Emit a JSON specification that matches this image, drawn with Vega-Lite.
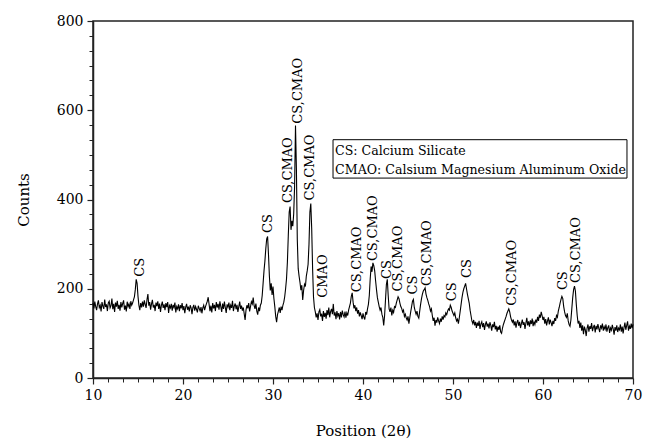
{
"$schema": "https://vega.github.io/schema/vega-lite/v6.json",
"width": 540, "height": 357,
"autosize": "none",
"padding": {"left": 93, "top": 21, "right": 13, "bottom": 68},
"background": "white",
"config": {"font": "DejaVu Serif", "view": {"stroke": "#222", "strokeWidth": 1.5}},
"datasets": {
"xrd": [
{"x":10.0,"y":168},{"x":10.1,"y":156},{"x":10.2,"y":171},{"x":10.3,"y":160},{"x":10.4,"y":152},{"x":10.5,"y":166},{"x":10.6,"y":174},{"x":10.7,"y":158},{"x":10.8,"y":163},{"x":10.9,"y":149},
{"x":11.0,"y":170},{"x":11.1,"y":161},{"x":11.2,"y":155},{"x":11.3,"y":176},{"x":11.4,"y":159},{"x":11.5,"y":165},{"x":11.6,"y":150},{"x":11.7,"y":168},{"x":11.8,"y":172},{"x":11.9,"y":157},
{"x":12.0,"y":162},{"x":12.1,"y":178},{"x":12.2,"y":154},{"x":12.3,"y":166},{"x":12.4,"y":148},{"x":12.5,"y":169},{"x":12.6,"y":160},{"x":12.7,"y":173},{"x":12.8,"y":155},{"x":12.9,"y":164},
{"x":13.0,"y":151},{"x":13.1,"y":170},{"x":13.2,"y":158},{"x":13.3,"y":167},{"x":13.4,"y":174},{"x":13.5,"y":153},{"x":13.6,"y":162},{"x":13.7,"y":149},{"x":13.8,"y":171},{"x":13.9,"y":160},
{"x":14.0,"y":166},{"x":14.1,"y":155},{"x":14.2,"y":172},{"x":14.3,"y":163},{"x":14.4,"y":168},{"x":14.5,"y":175},{"x":14.6,"y":182},{"x":14.7,"y":198},{"x":14.8,"y":221},{"x":14.9,"y":212},
{"x":15.0,"y":183},{"x":15.1,"y":163},{"x":15.2,"y":152},{"x":15.3,"y":168},{"x":15.4,"y":158},{"x":15.5,"y":171},{"x":15.6,"y":160},{"x":15.7,"y":174},{"x":15.8,"y":165},{"x":15.9,"y":157},
{"x":16.0,"y":176},{"x":16.1,"y":188},{"x":16.2,"y":162},{"x":16.3,"y":170},{"x":16.4,"y":153},{"x":16.5,"y":166},{"x":16.6,"y":175},{"x":16.7,"y":158},{"x":16.8,"y":164},{"x":16.9,"y":150},
{"x":17.0,"y":169},{"x":17.1,"y":161},{"x":17.2,"y":172},{"x":17.3,"y":155},{"x":17.4,"y":167},{"x":17.5,"y":148},{"x":17.6,"y":163},{"x":17.7,"y":171},{"x":17.8,"y":157},{"x":17.9,"y":165},
{"x":18.0,"y":152},{"x":18.1,"y":168},{"x":18.2,"y":159},{"x":18.3,"y":170},{"x":18.4,"y":146},{"x":18.5,"y":162},{"x":18.6,"y":157},{"x":18.7,"y":166},{"x":18.8,"y":151},{"x":18.9,"y":164},
{"x":19.0,"y":158},{"x":19.1,"y":169},{"x":19.2,"y":147},{"x":19.3,"y":160},{"x":19.4,"y":155},{"x":19.5,"y":165},{"x":19.6,"y":150},{"x":19.7,"y":163},{"x":19.8,"y":156},{"x":19.9,"y":168},
{"x":20.0,"y":152},{"x":20.1,"y":161},{"x":20.2,"y":145},{"x":20.3,"y":159},{"x":20.4,"y":166},{"x":20.5,"y":153},{"x":20.6,"y":160},{"x":20.7,"y":149},{"x":20.8,"y":163},{"x":20.9,"y":157},
{"x":21.0,"y":143},{"x":21.1,"y":158},{"x":21.2,"y":164},{"x":21.3,"y":151},{"x":21.4,"y":160},{"x":21.5,"y":154},{"x":21.6,"y":147},{"x":21.7,"y":162},{"x":21.8,"y":156},{"x":21.9,"y":150},
{"x":22.0,"y":159},{"x":22.1,"y":145},{"x":22.2,"y":157},{"x":22.3,"y":163},{"x":22.4,"y":152},{"x":22.5,"y":160},{"x":22.6,"y":166},{"x":22.7,"y":172},{"x":22.8,"y":181},{"x":22.9,"y":165},
{"x":23.0,"y":150},{"x":23.1,"y":162},{"x":23.2,"y":147},{"x":23.3,"y":168},{"x":23.4,"y":156},{"x":23.5,"y":164},{"x":23.6,"y":150},{"x":23.7,"y":170},{"x":23.8,"y":158},{"x":23.9,"y":166},
{"x":24.0,"y":153},{"x":24.1,"y":172},{"x":24.2,"y":160},{"x":24.3,"y":148},{"x":24.4,"y":167},{"x":24.5,"y":155},{"x":24.6,"y":171},{"x":24.7,"y":158},{"x":24.8,"y":146},{"x":24.9,"y":165},
{"x":25.0,"y":159},{"x":25.1,"y":169},{"x":25.2,"y":152},{"x":25.3,"y":163},{"x":25.4,"y":157},{"x":25.5,"y":173},{"x":25.6,"y":150},{"x":25.7,"y":161},{"x":25.8,"y":167},{"x":25.9,"y":154},
{"x":26.0,"y":164},{"x":26.1,"y":148},{"x":26.2,"y":160},{"x":26.3,"y":171},{"x":26.4,"y":155},{"x":26.5,"y":162},{"x":26.6,"y":151},{"x":26.7,"y":158},{"x":26.8,"y":144},{"x":26.9,"y":130},
{"x":27.0,"y":152},{"x":27.1,"y":163},{"x":27.2,"y":156},{"x":27.3,"y":168},{"x":27.4,"y":149},{"x":27.5,"y":160},{"x":27.6,"y":171},{"x":27.7,"y":166},{"x":27.8,"y":180},{"x":27.9,"y":162},
{"x":28.0,"y":155},{"x":28.1,"y":167},{"x":28.2,"y":150},{"x":28.3,"y":142},{"x":28.4,"y":158},{"x":28.5,"y":150},{"x":28.6,"y":163},{"x":28.7,"y":168},{"x":28.8,"y":185},{"x":28.9,"y":212},
{"x":29.0,"y":240},{"x":29.1,"y":262},{"x":29.2,"y":290},{"x":29.3,"y":312},{"x":29.4,"y":317},{"x":29.5,"y":276},{"x":29.6,"y":228},{"x":29.7,"y":196},{"x":29.8,"y":212},{"x":29.9,"y":186},
{"x":30.0,"y":205},{"x":30.1,"y":178},{"x":30.2,"y":160},{"x":30.3,"y":138},{"x":30.4,"y":125},{"x":30.5,"y":142},{"x":30.6,"y":150},{"x":30.7,"y":158},{"x":30.8,"y":146},{"x":30.9,"y":160},
{"x":31.0,"y":152},{"x":31.1,"y":163},{"x":31.2,"y":170},{"x":31.3,"y":182},{"x":31.4,"y":200},{"x":31.5,"y":222},{"x":31.6,"y":260},{"x":31.7,"y":320},{"x":31.8,"y":372},{"x":31.9,"y":384},
{"x":32.0,"y":332},{"x":32.1,"y":352},{"x":32.2,"y":340},{"x":32.3,"y":368},{"x":32.4,"y":430},{"x":32.5,"y":566},{"x":32.6,"y":470},{"x":32.7,"y":310},{"x":32.8,"y":245},{"x":32.9,"y":228},
{"x":33.0,"y":214},{"x":33.1,"y":197},{"x":33.2,"y":208},{"x":33.3,"y":175},{"x":33.4,"y":196},{"x":33.5,"y":210},{"x":33.6,"y":205},{"x":33.7,"y":228},{"x":33.8,"y":240},{"x":33.9,"y":255},
{"x":34.0,"y":300},{"x":34.1,"y":372},{"x":34.2,"y":391},{"x":34.3,"y":335},{"x":34.4,"y":245},{"x":34.5,"y":182},{"x":34.6,"y":158},{"x":34.7,"y":148},{"x":34.8,"y":136},{"x":34.9,"y":145},
{"x":35.0,"y":130},{"x":35.1,"y":148},{"x":35.2,"y":153},{"x":35.3,"y":138},{"x":35.4,"y":144},{"x":35.5,"y":128},{"x":35.6,"y":150},{"x":35.7,"y":137},{"x":35.8,"y":146},{"x":35.9,"y":133},
{"x":36.0,"y":152},{"x":36.1,"y":141},{"x":36.2,"y":158},{"x":36.3,"y":136},{"x":36.4,"y":149},{"x":36.5,"y":155},{"x":36.6,"y":143},{"x":36.7,"y":166},{"x":36.8,"y":140},{"x":36.9,"y":147},
{"x":37.0,"y":132},{"x":37.1,"y":150},{"x":37.2,"y":139},{"x":37.3,"y":145},{"x":37.4,"y":131},{"x":37.5,"y":148},{"x":37.6,"y":136},{"x":37.7,"y":151},{"x":37.8,"y":142},{"x":37.9,"y":137},
{"x":38.0,"y":149},{"x":38.1,"y":135},{"x":38.2,"y":146},{"x":38.3,"y":140},{"x":38.4,"y":152},{"x":38.5,"y":160},{"x":38.6,"y":168},{"x":38.7,"y":183},{"x":38.8,"y":191},{"x":38.9,"y":170},
{"x":39.0,"y":156},{"x":39.1,"y":163},{"x":39.2,"y":150},{"x":39.3,"y":158},{"x":39.4,"y":144},{"x":39.5,"y":152},{"x":39.6,"y":138},{"x":39.7,"y":147},{"x":39.8,"y":140},{"x":39.9,"y":132},
{"x":40.0,"y":145},{"x":40.1,"y":136},{"x":40.2,"y":131},{"x":40.3,"y":148},{"x":40.4,"y":142},{"x":40.5,"y":155},{"x":40.6,"y":165},{"x":40.7,"y":185},{"x":40.8,"y":222},{"x":40.9,"y":250},
{"x":41.0,"y":238},{"x":41.1,"y":258},{"x":41.2,"y":252},{"x":41.3,"y":240},{"x":41.4,"y":218},{"x":41.5,"y":198},{"x":41.6,"y":180},{"x":41.7,"y":170},{"x":41.8,"y":160},{"x":41.9,"y":152},
{"x":42.0,"y":158},{"x":42.1,"y":143},{"x":42.2,"y":136},{"x":42.3,"y":118},{"x":42.4,"y":140},{"x":42.5,"y":175},{"x":42.6,"y":210},{"x":42.7,"y":221},{"x":42.8,"y":185},{"x":42.9,"y":155},
{"x":43.0,"y":148},{"x":43.1,"y":158},{"x":43.2,"y":140},{"x":43.3,"y":152},{"x":43.4,"y":147},{"x":43.5,"y":160},{"x":43.6,"y":158},{"x":43.7,"y":168},{"x":43.8,"y":175},{"x":43.9,"y":182},
{"x":44.0,"y":178},{"x":44.1,"y":168},{"x":44.2,"y":160},{"x":44.3,"y":156},{"x":44.4,"y":148},{"x":44.5,"y":152},{"x":44.6,"y":138},{"x":44.7,"y":143},{"x":44.8,"y":135},{"x":44.9,"y":130},
{"x":45.0,"y":138},{"x":45.1,"y":122},{"x":45.2,"y":135},{"x":45.3,"y":148},{"x":45.4,"y":160},{"x":45.5,"y":172},{"x":45.6,"y":176},{"x":45.7,"y":158},{"x":45.8,"y":150},{"x":45.9,"y":143},
{"x":46.0,"y":150},{"x":46.1,"y":138},{"x":46.2,"y":134},{"x":46.3,"y":150},{"x":46.4,"y":165},{"x":46.5,"y":178},{"x":46.6,"y":188},{"x":46.7,"y":195},{"x":46.8,"y":198},{"x":46.9,"y":202},
{"x":47.0,"y":188},{"x":47.1,"y":180},{"x":47.2,"y":174},{"x":47.3,"y":166},{"x":47.4,"y":160},{"x":47.5,"y":150},{"x":47.6,"y":155},{"x":47.7,"y":140},{"x":47.8,"y":128},{"x":47.9,"y":135},
{"x":48.0,"y":117},{"x":48.1,"y":130},{"x":48.2,"y":124},{"x":48.3,"y":136},{"x":48.4,"y":128},{"x":48.5,"y":122},{"x":48.6,"y":133},{"x":48.7,"y":126},{"x":48.8,"y":138},{"x":48.9,"y":131},
{"x":49.0,"y":140},{"x":49.1,"y":137},{"x":49.2,"y":146},{"x":49.3,"y":142},{"x":49.4,"y":150},{"x":49.5,"y":155},{"x":49.6,"y":152},{"x":49.7,"y":163},{"x":49.8,"y":158},{"x":49.9,"y":150},
{"x":50.0,"y":145},{"x":50.1,"y":140},{"x":50.2,"y":146},{"x":50.3,"y":135},{"x":50.4,"y":128},{"x":50.5,"y":132},{"x":50.6,"y":122},{"x":50.7,"y":135},{"x":50.8,"y":150},{"x":50.9,"y":165},
{"x":51.0,"y":180},{"x":51.1,"y":192},{"x":51.2,"y":200},{"x":51.3,"y":206},{"x":51.4,"y":212},{"x":51.5,"y":200},{"x":51.6,"y":188},{"x":51.7,"y":178},{"x":51.8,"y":168},{"x":51.9,"y":152},
{"x":52.0,"y":140},{"x":52.1,"y":128},{"x":52.2,"y":122},{"x":52.3,"y":130},{"x":52.4,"y":118},{"x":52.5,"y":126},{"x":52.6,"y":112},{"x":52.7,"y":124},{"x":52.8,"y":117},{"x":52.9,"y":128},
{"x":53.0,"y":110},{"x":53.1,"y":121},{"x":53.2,"y":126},{"x":53.3,"y":114},{"x":53.4,"y":123},{"x":53.5,"y":108},{"x":53.6,"y":120},{"x":53.7,"y":127},{"x":53.8,"y":115},{"x":53.9,"y":122},
{"x":54.0,"y":111},{"x":54.1,"y":125},{"x":54.2,"y":118},{"x":54.3,"y":106},{"x":54.4,"y":120},{"x":54.5,"y":114},{"x":54.6,"y":126},{"x":54.7,"y":109},{"x":54.8,"y":117},{"x":54.9,"y":104},
{"x":55.0,"y":115},{"x":55.1,"y":108},{"x":55.2,"y":118},{"x":55.3,"y":103},{"x":55.4,"y":100},{"x":55.5,"y":112},{"x":55.6,"y":120},{"x":55.7,"y":126},{"x":55.8,"y":132},{"x":55.9,"y":138},
{"x":56.0,"y":145},{"x":56.1,"y":150},{"x":56.2,"y":155},{"x":56.3,"y":148},{"x":56.4,"y":137},{"x":56.5,"y":130},{"x":56.6,"y":125},{"x":56.7,"y":131},{"x":56.8,"y":118},{"x":56.9,"y":127},
{"x":57.0,"y":113},{"x":57.1,"y":124},{"x":57.2,"y":130},{"x":57.3,"y":117},{"x":57.4,"y":126},{"x":57.5,"y":112},{"x":57.6,"y":122},{"x":57.7,"y":131},{"x":57.8,"y":119},{"x":57.9,"y":125},
{"x":58.0,"y":110},{"x":58.1,"y":123},{"x":58.2,"y":135},{"x":58.3,"y":118},{"x":58.4,"y":127},{"x":58.5,"y":115},{"x":58.6,"y":129},{"x":58.7,"y":121},{"x":58.8,"y":133},{"x":58.9,"y":116},
{"x":59.0,"y":126},{"x":59.1,"y":120},{"x":59.2,"y":131},{"x":59.3,"y":124},{"x":59.4,"y":137},{"x":59.5,"y":128},{"x":59.6,"y":142},{"x":59.7,"y":135},{"x":59.8,"y":148},{"x":59.9,"y":140},
{"x":60.0,"y":130},{"x":60.1,"y":137},{"x":60.2,"y":122},{"x":60.3,"y":132},{"x":60.4,"y":118},{"x":60.5,"y":128},{"x":60.6,"y":136},{"x":60.7,"y":120},{"x":60.8,"y":131},{"x":60.9,"y":124},
{"x":61.0,"y":116},{"x":61.1,"y":128},{"x":61.2,"y":121},{"x":61.3,"y":134},{"x":61.4,"y":128},{"x":61.5,"y":140},{"x":61.6,"y":136},{"x":61.7,"y":150},{"x":61.8,"y":158},{"x":61.9,"y":168},
{"x":62.0,"y":176},{"x":62.1,"y":183},{"x":62.2,"y":178},{"x":62.3,"y":160},{"x":62.4,"y":148},{"x":62.5,"y":140},{"x":62.6,"y":136},{"x":62.7,"y":145},{"x":62.8,"y":128},{"x":62.9,"y":120},
{"x":63.0,"y":116},{"x":63.1,"y":130},{"x":63.2,"y":155},{"x":63.3,"y":180},{"x":63.4,"y":198},{"x":63.5,"y":206},{"x":63.6,"y":195},{"x":63.7,"y":165},{"x":63.8,"y":140},{"x":63.9,"y":122},
{"x":64.0,"y":128},{"x":64.1,"y":112},{"x":64.2,"y":124},{"x":64.3,"y":106},{"x":64.4,"y":118},{"x":64.5,"y":98},{"x":64.6,"y":115},{"x":64.7,"y":108},{"x":64.8,"y":94},{"x":64.9,"y":112},
{"x":65.0,"y":120},{"x":65.1,"y":104},{"x":65.2,"y":116},{"x":65.3,"y":110},{"x":65.4,"y":123},{"x":65.5,"y":105},{"x":65.6,"y":114},{"x":65.7,"y":119},{"x":65.8,"y":102},{"x":65.9,"y":117},
{"x":66.0,"y":109},{"x":66.1,"y":121},{"x":66.2,"y":111},{"x":66.3,"y":103},{"x":66.4,"y":118},{"x":66.5,"y":112},{"x":66.6,"y":122},{"x":66.7,"y":106},{"x":66.8,"y":115},{"x":66.9,"y":109},
{"x":67.0,"y":120},{"x":67.1,"y":104},{"x":67.2,"y":113},{"x":67.3,"y":118},{"x":67.4,"y":101},{"x":67.5,"y":112},{"x":67.6,"y":107},{"x":67.7,"y":119},{"x":67.8,"y":110},{"x":67.9,"y":97},
{"x":68.0,"y":114},{"x":68.1,"y":106},{"x":68.2,"y":118},{"x":68.3,"y":103},{"x":68.4,"y":112},{"x":68.5,"y":108},{"x":68.6,"y":120},{"x":68.7,"y":104},{"x":68.8,"y":115},{"x":68.9,"y":100},
{"x":69.0,"y":113},{"x":69.1,"y":124},{"x":69.2,"y":108},{"x":69.3,"y":118},{"x":69.4,"y":127},{"x":69.5,"y":106},{"x":69.6,"y":116},{"x":69.7,"y":110},{"x":69.8,"y":122},{"x":69.9,"y":112},
{"x":70.0,"y":120}
],
"labels": [
{"x":15.19,"y":227,"t":"CS"},
{"x":29.4,"y":325,"t":"CS"},
{"x":31.7,"y":392,"t":"CS,CMAO"},
{"x":32.8,"y":570,"t":"CS,CMAO"},
{"x":34.1,"y":398,"t":"CS,CMAO"},
{"x":35.55,"y":180,"t":"CMAO"},
{"x":39.33,"y":192,"t":"CS,CMAO"},
{"x":41.1,"y":262,"t":"CS,CMAO"},
{"x":42.7,"y":222,"t":"CS"},
{"x":43.93,"y":194,"t":"CS,CMAO"},
{"x":45.6,"y":187,"t":"CS"},
{"x":47.07,"y":206,"t":"CS,CMAO"},
{"x":49.85,"y":172,"t":"CS"},
{"x":51.5,"y":224,"t":"CS"},
{"x":56.55,"y":162,"t":"CS,CMAO"},
{"x":62.26,"y":197,"t":"CS"},
{"x":63.63,"y":213,"t":"CS,CMAO"}
],
"box": [{"x1":36.67,"x2":69.33,"y1":448,"y2":534}],
"legend": [
{"x":36.9,"y":508,"t":"CS: Calcium Silicate"},
{"x":36.9,"y":467,"t":"CMAO: Calsium Magnesium Aluminum Oxide"}
]
},
"layer": [
{
"data": {"name": "xrd"},
"mark": {"type": "line", "color": "black", "strokeWidth": 1.1, "interpolate": "linear"},
"encoding": {
"x": {"field": "x", "type": "quantitative", "scale": {"domain": [10, 70], "nice": false, "zero": false},
"axis": {"orient": "bottom", "title": "Position (2θ)", "values": [10,20,30,40,50,60,70], "grid": false, "domainColor": "#222", "domainWidth": 1.5, "tickColor": "#222", "tickWidth": 1.2, "tickSize": 6, "labelFont": "DejaVu Serif", "labelFontSize": 14, "labelColor": "black", "labelPadding": 4, "labelFlush": false, "titleFont": "DejaVu Serif", "titleFontSize": 15, "titleFontWeight": "normal", "titleColor": "black", "titlePadding": 21}},
"y": {"field": "y", "type": "quantitative", "scale": {"domain": [0, 800], "nice": false},
"axis": {"orient": "left", "title": "Counts", "values": [0,200,400,600,800], "grid": false, "domainColor": "#222", "domainWidth": 1.5, "tickColor": "#222", "tickWidth": 1.2, "tickSize": 6, "labelFont": "DejaVu Serif", "labelFontSize": 14, "labelColor": "black", "labelPadding": 4, "titleFont": "DejaVu Serif", "titleFontSize": 15, "titleFontWeight": "normal", "titleColor": "black", "titlePadding": 25}}
}
},
{
"data": {"name": "box"},
"mark": {"type": "rect", "fill": "white", "stroke": "black", "strokeWidth": 1},
"encoding": {
"x": {"field": "x1", "type": "quantitative", "scale": {"domain": [10, 70], "nice": false, "zero": false},
"axis": {"orient": "bottom", "title": null, "labels": false, "domain": false, "grid": false, "tickColor": "#222", "tickWidth": 1, "tickSize": 4,
"values": [11.667,13.333,15,16.667,18.333,21.667,23.333,25,26.667,28.333,31.667,33.333,35,36.667,38.333,41.667,43.333,45,46.667,48.333,51.667,53.333,55,56.667,58.333,61.667,63.333,65,66.667,68.333]}},
"x2": {"field": "x2"},
"y": {"field": "y1", "type": "quantitative", "scale": {"domain": [0, 800], "nice": false},
"axis": {"orient": "left", "title": null, "labels": false, "domain": false, "grid": false, "tickColor": "#222", "tickWidth": 1, "tickSize": 4,
"values": [33.333,66.667,100,133.333,166.667,233.333,266.667,300,333.333,366.667,433.333,466.667,500,533.333,566.667,633.333,666.667,700,733.333,766.667]}},
"y2": {"field": "y2"}
}
},
{
"data": {"name": "legend"},
"mark": {"type": "text", "align": "left", "baseline": "middle", "fontSize": 12.6, "color": "black"},
"encoding": {
"x": {"field": "x", "type": "quantitative", "axis": null},
"y": {"field": "y", "type": "quantitative", "axis": null},
"text": {"field": "t"}
}
},
{
"data": {"name": "labels"},
"mark": {"type": "text", "align": "left", "baseline": "middle", "angle": -90, "fontSize": 13, "color": "black"},
"encoding": {
"x": {"field": "x", "type": "quantitative", "axis": null},
"y": {"field": "y", "type": "quantitative", "axis": null},
"text": {"field": "t"}
}
}
],
"resolve": {"axis": {"x": "independent", "y": "independent"}}
}
